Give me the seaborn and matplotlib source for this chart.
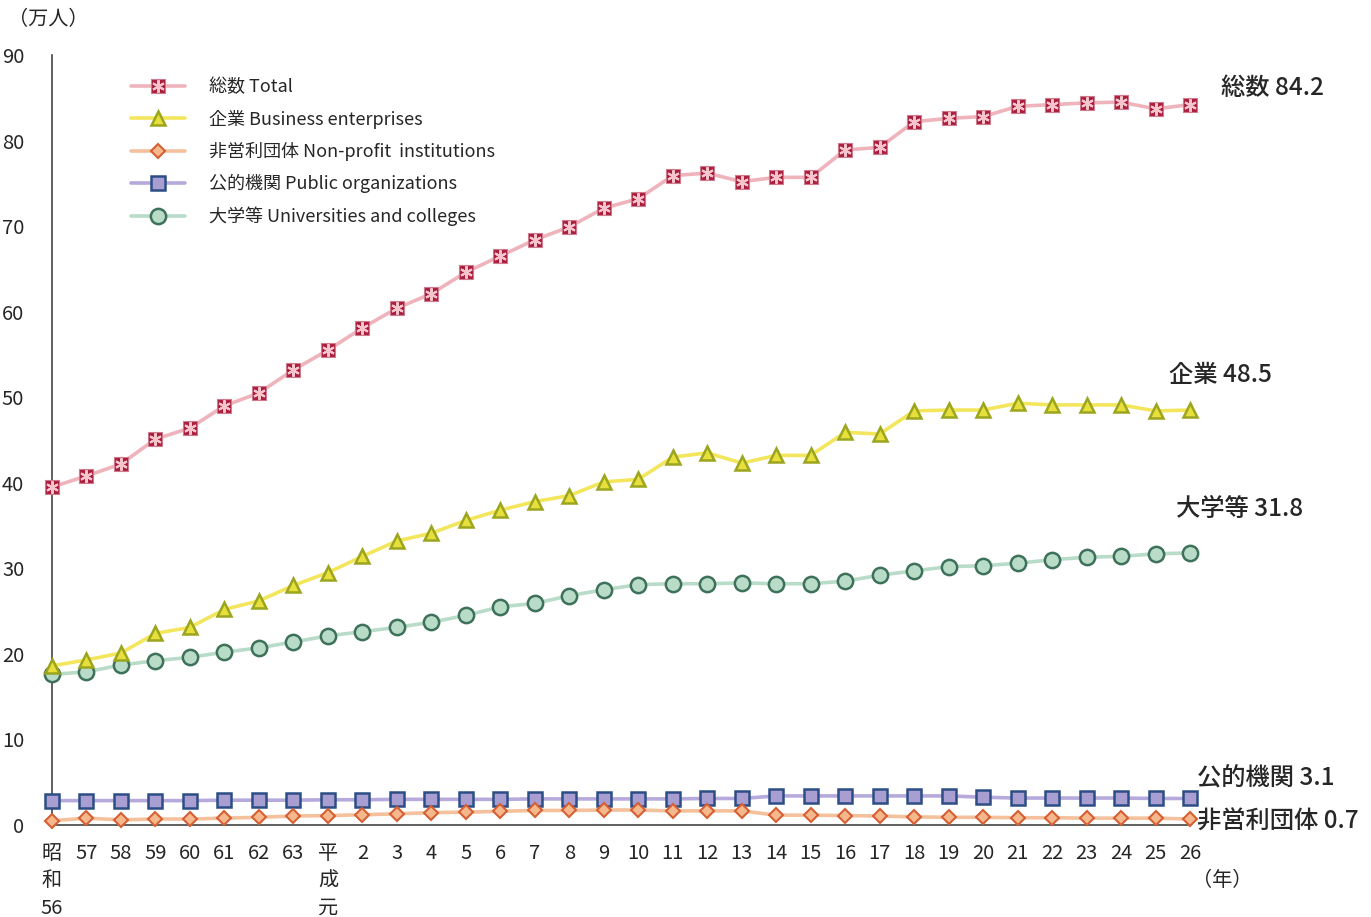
import matplotlib
matplotlib.use("Agg")
import matplotlib.pyplot as plt
from matplotlib.lines import Line2D
from matplotlib import font_manager
import numpy as np
import pandas as pd
import seaborn as sns

# Fiscal years: Showa 56-63, Heisei 1 (元) - 26
years = ["昭\n和\n56", "57", "58", "59", "60", "61", "62", "63", "平\n成\n元",
         "2", "3", "4", "5", "6", "7", "8", "9", "10", "11", "12", "13",
         "14", "15", "16", "17", "18", "19", "20", "21", "22", "23", "24", "25", "26"]

# Number of researchers (10,000 persons)
total = [39.5, 40.8, 42.2, 45.1, 46.4, 49.0, 50.5, 53.2, 55.5, 58.1, 60.4, 62.1,
         64.6, 66.5, 68.4, 69.9, 72.1, 73.2, 75.9, 76.2, 75.2, 75.7, 75.7, 78.9,
         79.2, 82.2, 82.6, 82.8, 84.0, 84.2, 84.4, 84.5, 83.7, 84.2]
business = [18.6, 19.3, 20.1, 22.4, 23.1, 25.2, 26.2, 28.0, 29.5, 31.4, 33.2, 34.1,
            35.6, 36.8, 37.8, 38.5, 40.1, 40.4, 43.0, 43.5, 42.3, 43.2, 43.2, 45.9,
            45.7, 48.4, 48.5, 48.5, 49.3, 49.1, 49.1, 49.1, 48.4, 48.5]
nonprofit = [0.5, 0.8, 0.6, 0.7, 0.7, 0.8, 0.9, 1.05, 1.1, 1.2, 1.3, 1.45,
             1.5, 1.6, 1.7, 1.7, 1.75, 1.75, 1.65, 1.65, 1.65, 1.15, 1.15, 1.1,
             1.05, 0.95, 0.9, 0.9, 0.85, 0.85, 0.8, 0.8, 0.8, 0.7]
public = [2.85, 2.85, 2.85, 2.85, 2.85, 2.9, 2.9, 2.9, 2.95, 2.95, 3.0, 3.0,
          3.0, 3.0, 3.05, 3.05, 3.05, 3.05, 3.05, 3.1, 3.1, 3.4, 3.4, 3.4,
          3.4, 3.4, 3.4, 3.25, 3.15, 3.15, 3.15, 3.15, 3.1, 3.1]
universities = [17.6, 17.9, 18.7, 19.2, 19.6, 20.2, 20.7, 21.4, 22.1, 22.6, 23.1, 23.7,
                24.5, 25.5, 25.9, 26.8, 27.5, 28.1, 28.2, 28.2, 28.3, 28.2, 28.2, 28.5,
                29.2, 29.7, 30.2, 30.3, 30.6, 31.0, 31.3, 31.4, 31.7, 31.8]

legend_labels = ["総数 Total", "企業 Business enterprises",
                 "非営利団体 Non-profit  institutions", "公的機関 Public organizations",
                 "大学等 Universities and colleges"]
end_labels = ["総数", "企業", "非営利団体", "公的機関", "大学等"]

sns.set_theme(style="white")
plt.rcParams["font.family"] = ["Noto Sans CJK JP", "DejaVu Sans"]

# narrow face for numerals when available
installed = {f.name for f in font_manager.fontManager.ttflist}
if "Liberation Sans Narrow" in installed:
    num_family = ["Liberation Sans Narrow", "Noto Sans CJK JP"]
else:
    num_family = ["Noto Sans CJK JP", "DejaVu Sans"]

idx = np.arange(len(years))
df = pd.DataFrame({
    "idx": np.tile(idx, 5),
    "series": np.repeat(end_labels, len(years)),
    "value": total + business + nonprofit + public + universities,
})

W, H = 1371, 917
fig = plt.figure(figsize=(W / 100, H / 100), dpi=100)
ax = fig.add_axes([52 / W, 1 - 825 / H, (1190 - 52) / W, (825 - 55) / H])

styles = {
    "大学等": dict(color="#b9dcc9", marker="o", ms=11, mfc="#b9dcc9", mec="#3d7159", mew=1.8),
    "企業": dict(color="#f3e65c", marker="^", ms=10, mfc="#e6df3c", mec="#9ca51e", mew=1.8),
    "総数": dict(color="#efb3bc", marker="s", ms=10, mfc="#a91f3d", mec="#d07a8e", mew=0.8),
    "公的機関": dict(color="#b6a9dc", marker="s", ms=10, mfc="#a99ed2", mec="#2c4d85", mew=1.8),
    "非営利団体": dict(color="#f5c09c", marker="D", ms=7.5, mfc="#f4b88c", mec="#d75f33", mew=1.5),
}

for name in ["大学等", "企業", "総数", "公的機関", "非営利団体"]:
    st = styles[name]
    sub = df[df["series"] == name]
    sns.lineplot(data=sub, x="idx", y="value", ax=ax, color=st["color"], lw=2.6,
                 marker=st["marker"], markersize=st["ms"], markerfacecolor=st["mfc"],
                 markeredgecolor=st["mec"], markeredgewidth=st["mew"],
                 clip_on=False, zorder=3, legend=False)

# asterisk overlay on total markers
ax.plot(idx, total, ls="none", marker=(6, 2, 0), ms=9, mec="#f6c4cd", mew=1.5,
        clip_on=False, zorder=4)

ax.set_xlim(0, len(years) - 1)
ax.set_ylim(0, 90)
ax.set_yticks(np.arange(0, 91, 10))
ax.set_xticks(idx)
ax.set_xticklabels(years, fontsize=14.5, va="top", linespacing=1.4, family=num_family)
for lbl in ax.get_yticklabels():
    lbl.set_family(num_family)
ax.tick_params(axis="y", labelsize=14.5, direction="in", length=6, width=1, pad=20, color="#333333")
ax.tick_params(axis="x", direction="in", length=5, width=1, pad=13, color="#333333")
ax.set_xlabel("")
ax.set_ylabel("")
for side in ["top", "right"]:
    ax.spines[side].set_visible(False)
for side in ["left", "bottom"]:
    ax.spines[side].set_color("#444444")
    ax.spines[side].set_linewidth(1.2)

# legend
handles = []
for name in end_labels:
    st = styles[name]
    h = Line2D([], [], color=st["color"], lw=2.6, marker=st["marker"], ms=st["ms"],
               mfc=st["mfc"], mec=st["mec"], mew=st["mew"])
    if name == "総数":
        star = Line2D([], [], ls="none", marker=(6, 2, 0), ms=9, mec="#f6c4cd", mew=1.5)
        h = (h, star)
    handles.append(h)
leg = ax.legend(handles, legend_labels, loc="upper left", bbox_to_anchor=(0.063, 0.979),
                frameon=False, fontsize=13, handlelength=3.0, handletextpad=1.3,
                labelspacing=0.73, borderaxespad=0)

# end-of-series labels
def px_text(x, y, s, **kw):
    fig.text(x / W, 1 - y / H, s, va="center", ha="left", **kw)

px_text(1221, 88, "総数 84.2", fontsize=17.5, fontweight="medium")
px_text(1169, 375, "企業 48.5", fontsize=17.5, fontweight="medium")
px_text(1176, 509, "大学等 31.8", fontsize=17.5, fontweight="medium")
px_text(1197, 778, "公的機関 3.1", fontsize=17.5, fontweight="medium")
px_text(1197, 822, "非営利団体 0.7", fontsize=17.5, fontweight="medium")

px_text(8, 20, "（万人）", fontsize=14.5)
px_text(1192, 881, "（年）", fontsize=14.5)

fig.savefig("out.png", dpi=100)
